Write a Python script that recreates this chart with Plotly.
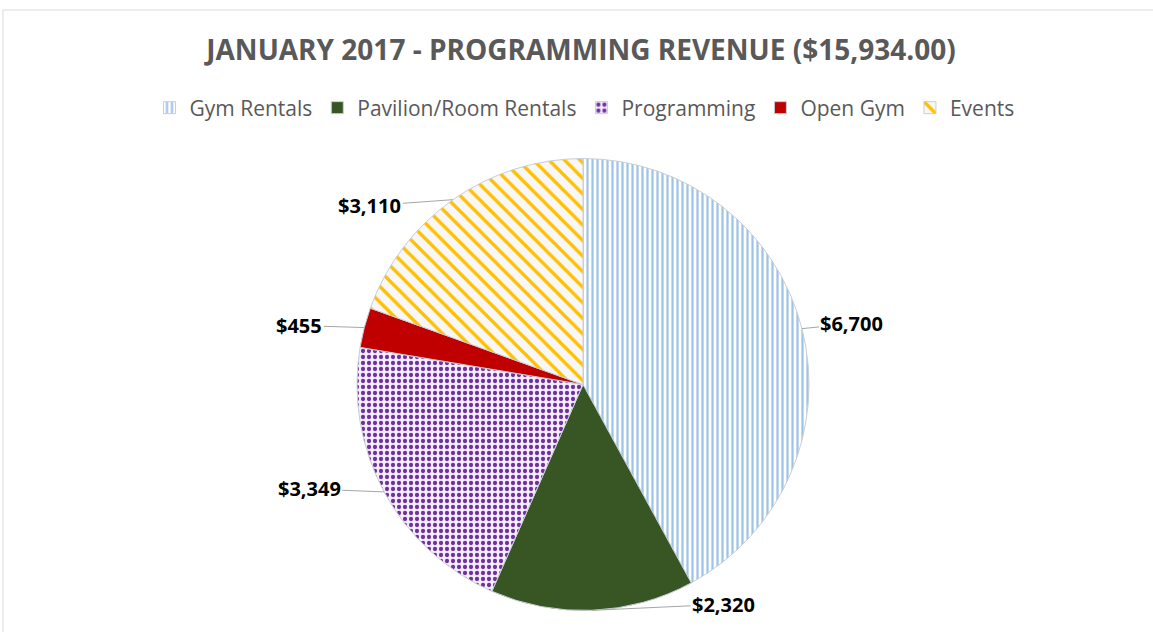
import math
import plotly.graph_objects as go

categories = ["Gym Rentals", "Pavilion/Room Rentals", "Programming", "Open Gym", "Events"]
revenue = [6700, 2320, 3349, 455, 3110]
title_text = "JANUARY 2017 - PROGRAMMING REVENUE ($15,934.00)"

fg_colors = ["#9DC3E6", "#375623", "#7030A0", "#C00000", "#FFC000"]
bg_colors = ["#FFFFFF", "#375623", "#F3EEF8", "#C00000", "#F7F7F7"]
shapes = ["|", "", ".", "", "\\"]
# pixel offsets of each data label from its slice edge (layout only)
label_offsets = [(50, -5), (131, -6), (-75, -3), (-65, -2), (-83, 6)]

W, H = 1153, 632
cx, cy, r = 583, 384.5, 226

fig = go.Figure(go.Pie(
    labels=categories,
    values=revenue,
    sort=False,
    direction="clockwise",
    rotation=0,
    textinfo="none",
    marker=dict(
        colors=bg_colors,
        line=dict(color="#C9CED6", width=1),
        pattern=dict(shape=shapes, fgcolor=fg_colors, bgcolor=bg_colors,
                     size=[5, 8, 6, 8, 11], solidity=[0.45, 0.3, 0.4, 0.3, 0.3],
                     fillmode="replace"),
    ),
    domain=dict(x=[(cx - r) / W, (cx + r) / W], y=[(H - cy - r) / H, (H - cy + r) / H]),
    hoverinfo="label+value+percent",
))

# data labels with leader lines, anchored at each slice's mid-angle on the rim
total = sum(revenue)
annotations = []
cum = 0
for v, (ax, ay) in zip(revenue, label_offsets):
    mid = (cum + v / 2) / total * 2 * math.pi
    cum += v
    px = cx + r * math.sin(mid)
    py = cy - r * math.cos(mid)
    annotations.append(dict(
        x=px / W, y=1 - py / H, xref="paper", yref="paper",
        text=f"<b>${v:,.0f}</b>", showarrow=True, arrowhead=0, arrowwidth=1,
        arrowcolor="#A6A6A6", ax=ax, ay=ay, standoff=0,
        font=dict(family="Open Sans", size=20, color="#000000"),
    ))

fig.update_layout(
    width=W, height=H,
    margin=dict(l=0, r=0, t=0, b=0),
    paper_bgcolor="#FFFFFF",
    title=dict(text=f"<b>{title_text}</b>", x=581 / W, xanchor="center", y=1 - 50 / H, yanchor="middle",
               font=dict(family="Open Sans", size=28, color="#595959")),
    legend=dict(orientation="h", x=584.5 / W, xanchor="center", y=1 - 108 / H, yanchor="middle",
                font=dict(family="Open Sans", size=21, color="#595959"), itemwidth=30),
    showlegend=True,
    annotations=annotations,
    shapes=[dict(type="rect", xref="paper", yref="paper", x0=3 / W, x1=1.01, y0=-0.05, y1=1 - 10 / H,
                 line=dict(color="#D9D9D9", width=1), fillcolor="rgba(0,0,0,0)", layer="below")],
)

fig.write_html("out.html", config={"displayModeBar": False},
               post_script="document.body.style.margin='0';document.body.style.overflow='hidden';")
